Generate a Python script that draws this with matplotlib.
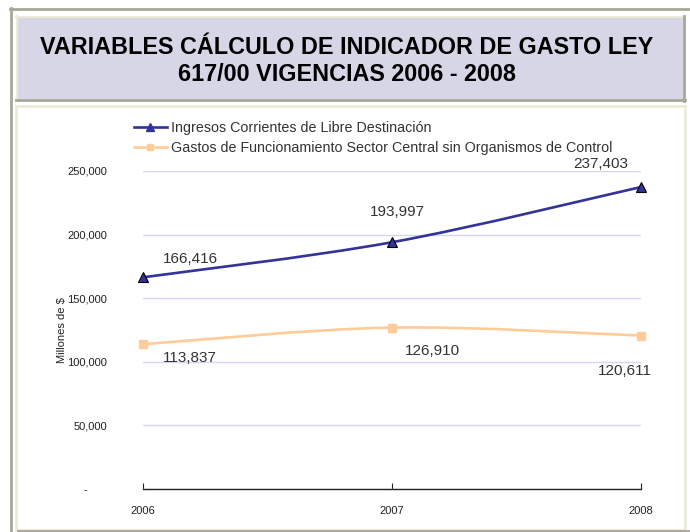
import matplotlib
matplotlib.use("Agg")
import matplotlib.pyplot as plt
from matplotlib.patches import Rectangle, PathPatch
from matplotlib.path import Path
from matplotlib.lines import Line2D
from matplotlib.ticker import FuncFormatter

plt.rcParams["font.family"] = ["Liberation Sans Narrow", "Liberation Sans", "DejaVu Sans"]

years = [2006, 2007, 2008]
ingresos = [166416, 193997, 237403]
gastos = [113837, 126910, 120611]
series_names = [
    "Ingresos Corrientes de Libre Destinación",
    "Gastos de Funcionamiento Sector Central sin Organismos de Control",
]
title = "VARIABLES CÁLCULO DE INDICADOR DE GASTO LEY\n617/00 VIGENCIAS 2006 - 2008"

# label offsets in pixels (dx, dy), dy positive = up
ing_offsets = [(47, 18), (5, 30), (-40, 23)]
gas_offsets = [(47, -14), (40, -23), (-16, -35)]

W, H = 690, 532
fig = plt.figure(figsize=(W / 100, H / 100), dpi=100)


def box(x0, y0, x1, y1, **kw):
    # pixel coords, y from top
    return Rectangle((x0 / W, 1 - y1 / H), (x1 - x0) / W, (y1 - y0) / H,
                     transform=fig.transFigure, zorder=-5, **kw)


def hline(x0, x1, y, **kw):
    fig.add_artist(Line2D([x0 / W, x1 / W], [1 - y / H, 1 - y / H],
                          transform=fig.transFigure, zorder=-4, **kw))


def vline(x, y0, y1, **kw):
    fig.add_artist(Line2D([x / W, x / W], [1 - y0 / H, 1 - y1 / H],
                          transform=fig.transFigure, zorder=-4, **kw))


# outer frame
gray = "#a8a898"
cream = "#ecead8"
hline(10, W, 8.5, color=gray, lw=2)
vline(11, 8, H, color=gray, lw=2)
hline(18, W, 530.5, color=gray, lw=2)

# title box
fig.add_artist(box(16, 16, 684, 100, facecolor="#d6d6e6", edgecolor="none"))
hline(16, 684, 16.5, color=cream, lw=1.5)
vline(16.5, 16, 100, color=cream, lw=1.5)
hline(16, 685, 100, color=gray, lw=2)
vline(684, 16, 101, color=gray, lw=2)
fig.text(347 / W, 1 - 61 / H, title, ha="center", va="center",
         fontsize=16.8, fontweight="bold", linespacing=1.2, color="black")

# chart box
fig.add_artist(box(16, 106, 685, 530, facecolor="white", edgecolor=cream, lw=2))

ax = fig.add_axes([143 / W, 1 - 489 / H, (641 - 143) / W, (489 - 171) / H])
ax.set_facecolor("none")
ax.set_xlim(2006, 2008)
ax.set_ylim(0, 250000)

for s in ["top", "right", "left"]:
    ax.spines[s].set_visible(False)
ax.spines["bottom"].set_color("#222222")
ax.spines["bottom"].set_linewidth(1)
ax.set_xticks(years)
ax.tick_params(axis="x", direction="in", length=4, color="#222222",
               labelsize=8, pad=12, labelcolor="#222222")
ax.set_yticks([0, 50000, 100000, 150000, 200000, 250000])
ax.yaxis.set_major_formatter(FuncFormatter(
    lambda v, p: "-      " if v == 0 else f"{v:,.0f}"))
ax.tick_params(axis="y", length=0, labelsize=8, pad=26, labelcolor="#222222")
ax.grid(axis="y", color="#d4d4f4", lw=1)
ax.set_axisbelow(True)
ax.set_ylabel("Millones de $", fontsize=8, color="#222222")
ax.yaxis.set_label_coords(-0.153, 0.5)


def smooth_path(xs, ys):
    # Catmull-Rom style smoothing built from the data points
    pts = list(zip(xs, ys))
    verts = [pts[0]]
    codes = [Path.MOVETO]
    n = len(pts)
    for i in range(n - 1):
        p0 = pts[i - 1] if i > 0 else pts[i]
        p1 = pts[i]
        p2 = pts[i + 1]
        p3 = pts[i + 2] if i + 2 < n else pts[i + 1]
        c1 = (p1[0] + (p2[0] - p0[0]) / 6, p1[1] + (p2[1] - p0[1]) / 6)
        c2 = (p2[0] - (p3[0] - p1[0]) / 6, p2[1] - (p3[1] - p1[1]) / 6)
        verts += [c1, c2, p2]
        codes += [Path.CURVE4] * 3
    return Path(verts, codes)


ing_color = "#333399"
gas_color = "#ffcc99"

ax.add_patch(PathPatch(smooth_path(years, gastos), facecolor="none",
                       edgecolor=gas_color, lw=1.9, clip_on=False, zorder=3))
ax.add_patch(PathPatch(smooth_path(years, ingresos), facecolor="none",
                       edgecolor=ing_color, lw=1.9, clip_on=False, zorder=4))
ax.plot(years, gastos, ls="none", marker="s", ms=6, color=gas_color,
        clip_on=False, zorder=5)
ax.plot(years, ingresos, ls="none", marker="^", ms=7.5, mfc=ing_color,
        mec="black", mew=0.8, clip_on=False, zorder=6)

for x, y, (dx, dy) in zip(years, ingresos, ing_offsets):
    ax.annotate(f"{y:,}", (x, y), xytext=(dx * 0.72, dy * 0.72),
                textcoords="offset points", ha="center", va="center",
                fontsize=11, color="#333333", annotation_clip=False)
for x, y, (dx, dy) in zip(years, gastos, gas_offsets):
    ax.annotate(f"{y:,}", (x, y), xytext=(dx * 0.72, dy * 0.72),
                textcoords="offset points", ha="center", va="center",
                fontsize=11, color="#333333", annotation_clip=False)

handles = [
    Line2D([], [], color=ing_color, lw=1.9, marker="^", ms=6, mfc=ing_color, mec=ing_color),
    Line2D([], [], color=gas_color, lw=1.9, marker="s", ms=5, mfc=gas_color, mec=gas_color),
]
fig.legend(handles, series_names, loc="upper left",
           bbox_to_anchor=(134 / W, 1 - 121 / H), frameon=False,
           fontsize=10.3, handlelength=2.3, handletextpad=0.3,
           labelspacing=0.4, borderpad=0, borderaxespad=0,
           labelcolor="#333333")

fig.savefig("out.png", dpi=100)
